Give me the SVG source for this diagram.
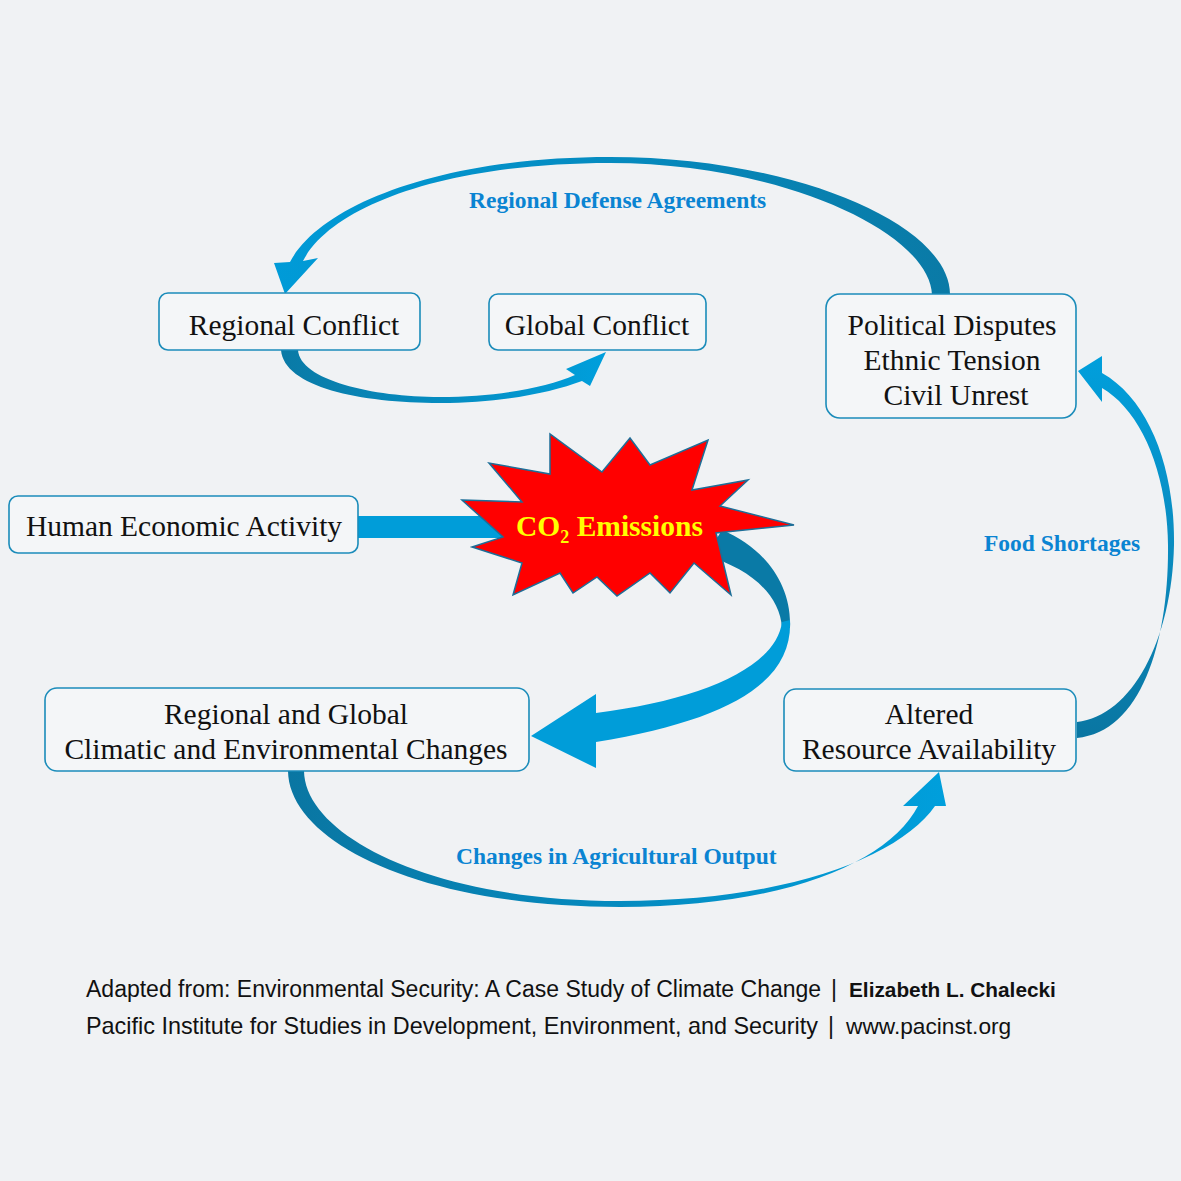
<svg xmlns="http://www.w3.org/2000/svg" width="1181" height="1181" viewBox="0 0 1181 1181">
<defs>
<linearGradient id="gTop" x1="0" y1="0" x2="1" y2="0">
<stop offset="0" stop-color="#009bd8"/><stop offset="1" stop-color="#0a7aa6"/>
</linearGradient>
<linearGradient id="gBot" x1="0" y1="0" x2="1" y2="0">
<stop offset="0" stop-color="#0a76a2"/><stop offset="1" stop-color="#009fdc"/>
</linearGradient>
<linearGradient id="gRight" x1="0" y1="1" x2="0" y2="0">
<stop offset="0" stop-color="#0a76a2"/><stop offset="0.5" stop-color="#0a8cc0"/><stop offset="1" stop-color="#009fdc"/>
</linearGradient>
<linearGradient id="gSmall" x1="0" y1="0" x2="1" y2="0">
<stop offset="0" stop-color="#0a7aa6"/><stop offset="1" stop-color="#009fdc"/>
</linearGradient>
<style>
.box{fill:#f4f6f8;stroke:#1b8cba;stroke-width:1.6}
.t{font-family:"Liberation Serif","Times New Roman",serif;font-size:29.5px;fill:#111;text-anchor:middle}
.lbl{font-family:"Liberation Serif","Times New Roman",serif;font-size:23.5px;font-weight:bold;fill:#0a84d2}
.foot{font-family:"Liberation Sans",Arial,sans-serif;font-size:23px;fill:#111}
</style>
</defs>
<rect width="1181" height="1181" fill="#f0f2f4"/>

<g id="connectors">
<!-- Human Economic Activity -> CO2 -->
<rect x="356" y="516" width="150" height="22" fill="#009dd9"/>
<!-- Political -> Regional Conflict (Regional Defense Agreements) -->
<path d="M950,295 C951,225 795,157 610,157 C440,157 320,205 290,262 L274,263 L285,294 L318,258 L303,261 C332,205 448,163 610,163 C780,163 930,232 932,295 Z" fill="url(#gTop)"/>
<!-- Regional Conflict -> Global Conflict -->
<path d="M281,350 C284,387 360,403 440,403 C500,403 550,393 582,381 L590,386 L606,352 L566,369 L575,375 C545,388 495,397 440,397 C372,397 300,380 298,350 Z" fill="url(#gSmall)"/>
<!-- CO2 -> Climatic changes -->
<path d="M722,530 C765,548 792,585 790,628 L782,628 C780,595 750,568 706,556 Z" fill="#0a7aa6"/>
<path d="M790,620 C793,682 730,720 596,742 L596,768 L531,736 L596,694 L596,713 C700,700 776,668 782,622 Z" fill="#009dd9"/>
<!-- Climatic -> Altered (Changes in Agricultural Output) -->
<path d="M288,771 C289,842 420,907 620,907 C790,907 890,860 918,806 L903,806 L939,772 L946,806 L935,806 C900,856 790,901 620,901 C432,901 305,836 304,771 Z" fill="url(#gBot)"/>
<!-- Altered -> Political (Food Shortages) -->
<path d="M1102,373 C1150,400 1175,470 1174,545 C1172,640 1132,716 1077,722 L1077,738 C1142,732 1169,640 1168,545 C1167,470 1140,410 1102,388 L1102,402 L1078,371 L1102,356 Z" fill="url(#gRight)"/>
</g>

<g id="co2">
<polygon points="462,500 522,502 489,463 550,474 550,434 602,472 630,438 650,465 708,440 692,490 748,480 720,506 794,525 716,533 731,595 694,563 670,593 650,573 617,596 597,577 573,593 560,573 513,595 522,563 472,547 503,537" fill="#ff0000" stroke="#1c6e98" stroke-width="1.5" stroke-linejoin="miter"/>
<text x="516" y="536" font-family="'Liberation Serif','Times New Roman',serif" font-size="29.5" font-weight="bold" fill="#ffff00">CO<tspan font-size="18" dy="7">2</tspan><tspan dy="-7"> Emissions</tspan></text>
</g>

<g id="regional-conflict">
<rect class="box" x="159" y="293" width="261" height="57" rx="9"/>
<text class="t" x="294" y="335">Regional Conflict</text>
</g>
<g id="global-conflict">
<rect class="box" x="489" y="294" width="217" height="56" rx="9"/>
<text class="t" x="597" y="335">Global Conflict</text>
</g>
<g id="political">
<rect class="box" x="826" y="294" width="250" height="124" rx="14"/>
<text class="t" x="952" y="335">Political Disputes</text>
<text class="t" x="952" y="370">Ethnic Tension</text>
<text class="t" x="956" y="405">Civil Unrest</text>
</g>
<g id="human">
<rect class="box" x="9" y="496" width="349" height="57" rx="9"/>
<text class="t" x="184" y="536">Human Economic Activity</text>
</g>
<g id="climatic">
<rect class="box" x="45" y="688" width="484" height="83" rx="12"/>
<text class="t" x="286" y="724">Regional and Global</text>
<text class="t" x="286" y="759">Climatic and Environmental Changes</text>
</g>
<g id="altered">
<rect class="box" x="784" y="689" width="292" height="82" rx="12"/>
<text class="t" x="929" y="724">Altered</text>
<text class="t" x="929" y="759">Resource Availability</text>
</g>

<g id="labels">
<text class="lbl" x="469" y="208">Regional Defense Agreements</text>
<text class="lbl" x="984" y="551">Food Shortages</text>
<text class="lbl" x="456" y="864">Changes in Agricultural Output</text>
</g>

<g id="footer">
<text class="foot" x="86" y="997">Adapted from: Environmental Security: A Case Study of Climate Change</text>
<text class="foot" x="831" y="997">|</text>
<text class="foot" x="849" y="997" style="font-weight:bold;font-size:20.8px">Elizabeth L. Chalecki</text>
<text class="foot" x="86" y="1034" style="font-size:23.4px">Pacific Institute for Studies in Development, Environment, and Security</text>
<text class="foot" x="828" y="1034">|</text>
<text class="foot" x="846" y="1034" style="font-size:22.7px">www.pacinst.org</text>
</g>
</svg>
